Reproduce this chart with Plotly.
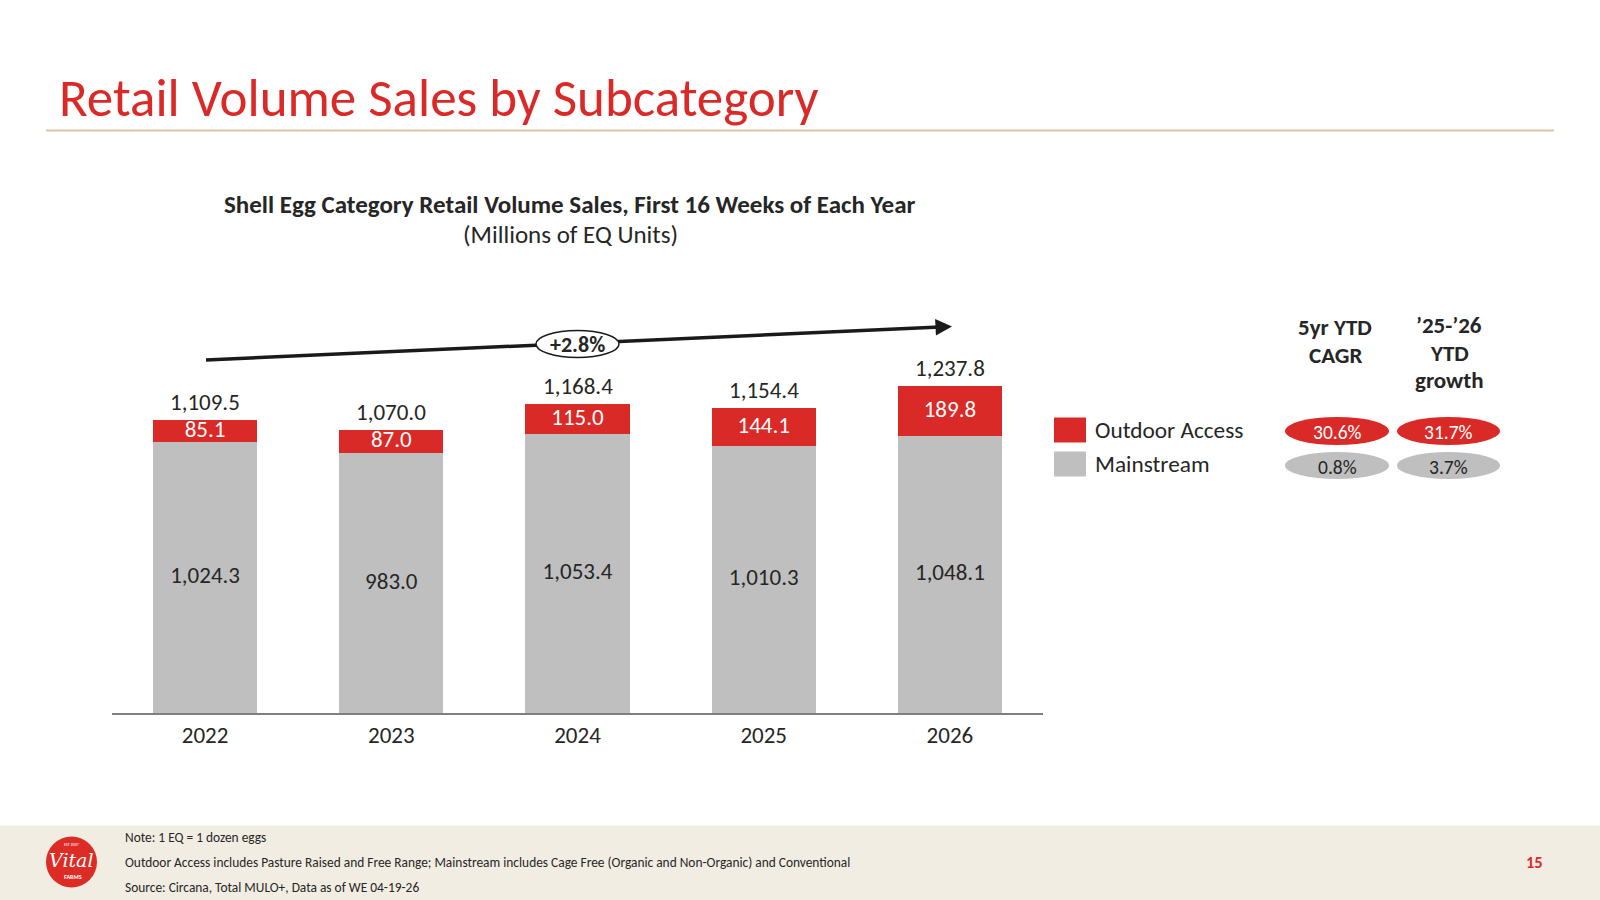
import plotly.graph_objects as go

years = ["2022", "2023", "2024", "2025", "2026"]
mainstream = [1024.3, 983.0, 1053.4, 1010.3, 1048.1]
outdoor = [85.1, 87.0, 115.0, 144.1, 189.8]
totals = [1109.5, 1070.0, 1168.4, 1154.4, 1237.8]

legend_names = ["Outdoor Access", "Mainstream"]
cagr_5yr = ["30.6%", "0.8%"]
ytd_growth = ["31.7%", "3.7%"]
trend_label = "+2.8%"

RED = "#DA2A27"
GRAY = "#BFBFBF"
DARK = "#262626"
FONT = "Carlito, Calibri, Lato, 'Open Sans', sans-serif"

W, H = 1600, 900
L, R_, B, T = 112, 1043, 713, 300
YMAX = (B - T) / 0.2644


def px(x):
    return (x - L) / (R_ - L)


def py(y):
    return (B - y) / (B - T)


fig = go.Figure()
fig.add_trace(go.Bar(x=years, y=mainstream, marker_color=GRAY, marker_line_width=0, name="Mainstream"))
fig.add_trace(go.Bar(x=years, y=outdoor, marker_color=RED, marker_line_width=0, name="Outdoor Access"))

fig.add_trace(go.Scatter(x=years, y=[m / 2 for m in mainstream], mode="text",
                         text=[f"{v:,.1f}" for v in mainstream],
                         textfont=dict(size=23, color=DARK, family=FONT)))
fig.add_trace(go.Scatter(x=years, y=[m + o / 2 for m, o in zip(mainstream, outdoor)], mode="text",
                         text=[f"{v:,.1f}" for v in outdoor],
                         textfont=dict(size=23, color="white", family=FONT)))

shapes = []
annotations = []

# total labels above each stack (x given as category index)
for i, (m, o, tot) in enumerate(zip(mainstream, outdoor, totals)):
    annotations.append(dict(text=f"{tot:,.1f}", x=i, y=m + o, xref="x", yref="y", yshift=18,
                            xanchor="center", yanchor="middle", showarrow=False,
                            font=dict(size=23, color=DARK, family=FONT)))


def text(t, x, y, size, color=DARK, anchor="center", bold=False, family=FONT):
    annotations.append(dict(text=f"<b>{t}</b>" if bold else t, xref="paper", yref="paper", x=px(x), y=py(y),
                            xanchor=anchor, yanchor="middle", showarrow=False,
                            font=dict(size=size, color=color, family=family)))


# title rule
shapes.append(dict(type="line", xref="paper", yref="paper", x0=px(46), x1=px(1554), y0=py(130.5), y1=py(130.5),
                   line=dict(color="#D8C8A6", width=2)))
# footer band
shapes.append(dict(type="rect", xref="paper", yref="paper", x0=px(0), x1=px(W), y0=py(825.5), y1=py(H),
                   fillcolor="#F2EDE3", line=dict(width=0), layer="below"))

text("Retail Volume Sales by Subcategory", 57, 98, 53, RED, "left")
text("Shell Egg Category Retail Volume Sales, First 16 Weeks of Each Year", 570, 204, 25, bold=True)
text("(Millions of EQ Units)", 570, 235, 25)

# trend arrow
x0a, y0a, x1a, y1a = 206, 360, 940, 327
shapes.append(dict(type="line", xref="paper", yref="paper", x0=px(x0a), y0=py(y0a), x1=px(x1a), y1=py(y1a),
                   line=dict(color="#1A1A1A", width=3.5)))
annotations.append(dict(text="", xref="paper", yref="paper", x=px(952), y=py(326.5), ax=-20, ay=1,
                        showarrow=True, arrowhead=2, arrowsize=1.1, arrowwidth=3, arrowcolor="#1A1A1A",
                        standoff=0))
shapes.append(dict(type="circle", xref="paper", yref="paper", x0=px(536), x1=px(619), y0=py(330.5), y1=py(357.5),
                   fillcolor="white", line=dict(color="#1A1A1A", width=1.5)))
text(trend_label, 577.5, 344, 22, bold=True)

# legend
leg_colors = [RED, GRAY]
leg_y = [430, 464]
for name, c, yy in zip(legend_names, leg_colors, leg_y):
    shapes.append(dict(type="rect", xref="paper", yref="paper", x0=px(1054), x1=px(1086), y0=py(yy - 12.5),
                       y1=py(yy + 12.5), fillcolor=c, line=dict(width=0)))
    text(name, 1093, yy, 23.3, anchor="left")

# column headers
text("5yr YTD", 1335, 327, 23, bold=True)
text("CAGR", 1335, 354.5, 23, bold=True)
text("\u201925-\u201926", 1449, 325, 23, bold=True)
text("YTD", 1449, 352.5, 23, bold=True)
text("growth", 1449, 380, 23, bold=True)

# growth ellipses
col_x = [(1285, 1389), (1397, 1500)]
row_y = [(417, 445), (452, 479)]
for ci, vals in enumerate([cagr_5yr, ytd_growth]):
    for ri, v in enumerate(vals):
        xa, xb = col_x[ci]
        ya, yb = row_y[ri]
        shapes.append(dict(type="circle", xref="paper", yref="paper", x0=px(xa), x1=px(xb), y0=py(ya), y1=py(yb),
                           fillcolor=leg_colors[ri], line=dict(width=0)))
        text(v, (xa + xb) / 2, (ya + yb) / 2 + 1, 19.5, "white" if ri == 0 else DARK)

# footer notes
notes = ["Note: 1 EQ = 1 dozen eggs",
         "Outdoor Access includes Pasture Raised and Free Range; Mainstream includes Cage Free (Organic and Non-Organic) and Conventional",
         "Source: Circana, Total MULO+, Data as of WE 04-19-26"]
for txt, yy in zip(notes, [837, 862, 887]):
    text(txt, 123, yy, 13.4, anchor="left")
text("15", 1534, 862, 16.5, RED, bold=True)

# logo
shapes.append(dict(type="circle", xref="paper", yref="paper", x0=px(46), x1=px(97), y0=py(836.5), y1=py(887.5),
                   fillcolor="#DD2B25", line=dict(width=0)))
text("<i>Vital</i>", 71.5, 860, 19, "white", family="'DejaVu Serif', serif")
text("FARMS", 73, 877, 6, "white", bold=True)
text("EST 2007", 71.5, 844, 4, "white")

fig.update_layout(
    width=W, height=H, barmode="stack", bargap=0.44, showlegend=False,
    paper_bgcolor="white", plot_bgcolor="white",
    margin=dict(l=L, r=W - R_, t=T, b=H - B, pad=0),
    shapes=shapes, annotations=annotations,
    font=dict(family=FONT, color=DARK),
    xaxis=dict(type="category", range=[-0.5, 4.5], showline=True, linecolor="#7F7F7F", linewidth=2,
               ticks="", showgrid=False, zeroline=False, tickfont=dict(size=23, color=DARK, family=FONT)),
    yaxis=dict(range=[0, YMAX], visible=False, showgrid=False, zeroline=False),
)

fig.write_html("out.html")
